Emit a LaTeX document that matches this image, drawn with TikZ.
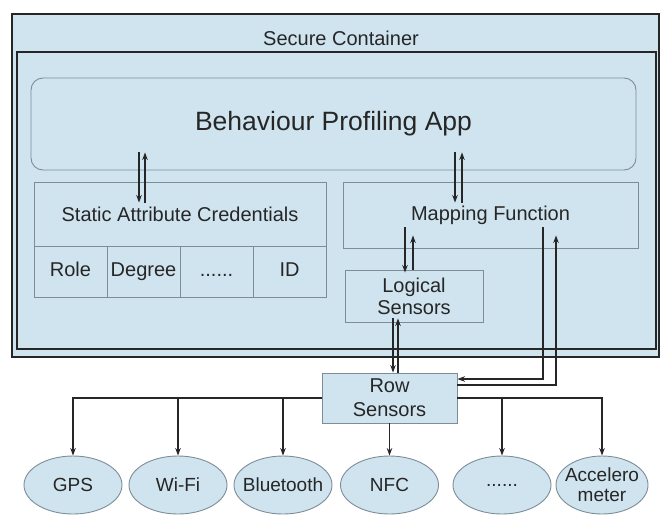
\documentclass[tikz,border=0pt]{standalone}
\usepackage{fontspec}
\setmainfont{Liberation Sans}
\usetikzlibrary{arrows.meta,shapes.geometric}
\definecolor{panel}{RGB}{208,228,240}
\definecolor{edge}{RGB}{125,140,150}
\definecolor{ink}{RGB}{38,38,38}
\begin{document}
\begin{tikzpicture}[x=1pt,y=-1pt,
		frame/.style={draw=ink,line width=1.6pt,fill=panel,inner sep=0pt},
		box/.style={draw=edge,line width=0.9pt,fill=panel,inner sep=0pt,text=ink,font=\fontsize{20}{22}\selectfont,align=center},
		cell/.style={box,minimum width=73pt,minimum height=51pt,text height=14pt,text depth=4pt},
		sensor/.style={ellipse,box,font=\fontsize{19}{20}\selectfont,inner xsep=-6pt,minimum width=98pt,minimum height=58pt},
		arr/.style={-{Stealth[length=7.5pt,width=5.5pt]},line width=1.1pt,draw=ink}]
		\useasboundingbox (0,0) rectangle (660,517);
		% secure container
		\node[frame,minimum width=647pt,minimum height=343pt] (outer) at (335.5,185.5) {};
		\node[text=ink,font=\fontsize{20}{22}\selectfont] (title) at (341,38) {Secure Container};
		\node[frame,minimum width=639pt,minimum height=297pt] (inner) at (336.5,200.5) {};
		\node[box,rounded corners=12pt,minimum width=605pt,minimum height=92pt,font=\fontsize{26.5}{30}\selectfont] (app) at (333.5,124) {Behaviour Profiling App};
		\node[box,minimum width=292pt,minimum height=64pt] (static) at (180,214) {Static Attribute Credentials};
		\node[cell] (role) at (70.5,271.5) {Role};
		\node[cell] (degree) at (143.5,271.5) {Degree};
		\node[cell] (more) at (216.5,271.5) {......};
		\node[cell] (id) at (289.5,271.5) {ID};
		\node[box,minimum width=295pt,minimum height=66pt] (mapping) at (490.5,215) {Mapping Function};
		\node[box,minimum width=138pt,minimum height=52pt] (logical) at (414,296) {Logical\\Sensors};
		% outside
		\node[box,minimum width=135pt,minimum height=50pt,font=\fontsize{20}{24}\selectfont] (row) at (389.5,398) {Row\\Sensors};
		\node[sensor] (gps) at (73,485) {GPS};
		\node[sensor] (wifi) at (178,485) {Wi-Fi};
		\node[sensor] (bt) at (283,485) {Bluetooth};
		\node[sensor] (nfc) at (389.5,485) {NFC};
		\node[sensor] (more2) at (502,485) {......};
		\node[sensor,minimum width=92pt] (accel) at (602,485) {Accelero\\meter};
		% app links
		\draw[arr] ([xshift=-194.5pt,yshift=18pt]app.south) -- ([xshift=-41pt,yshift=-21pt]static.north);
		\draw[arr] ([xshift=-35pt,yshift=-21pt]static.north) -- ([xshift=-188.5pt,yshift=18pt]app.south);
		\draw[arr] ([xshift=121.5pt,yshift=18pt]app.south) -- ([xshift=-35.5pt,yshift=-21pt]mapping.north);
		\draw[arr] ([xshift=-28.5pt,yshift=-21pt]mapping.north) -- ([xshift=128.5pt,yshift=18pt]app.south);
		% sensors links
		\draw[arr] ([xshift=-85.5pt,yshift=21pt]mapping.south) -- ([xshift=-9pt,yshift=-3pt]logical.north);
		\draw[arr] ([xshift=-1pt]logical.north) -- ([xshift=-77.5pt,yshift=13pt]mapping.south);
		\draw[arr] ([xshift=-21pt,yshift=4pt]logical.south) -- ([xshift=3.5pt]row.north);
		\draw[arr] ([xshift=8.5pt]row.north) -- ([xshift=-16pt,yshift=4pt]logical.south);
		\draw[arr] ([xshift=52.5pt,yshift=21pt]mapping.south) |- ([yshift=19pt]row.east);
		\draw[arr] ([yshift=13pt]row.east) -| ([xshift=65.5pt,yshift=13pt]mapping.south);
		\draw[arr] (row.west) -| (gps.north);
		\draw[arr] (row.west) -| (wifi.north);
		\draw[arr] (row.west) -| (bt.north);
		\draw[arr] (row.south) -- (nfc.north);
		\draw[arr] (row.east) -| (more2.north);
		\draw[arr] (row.east) -| (accel.north);
	\end{tikzpicture}
\end{document}
